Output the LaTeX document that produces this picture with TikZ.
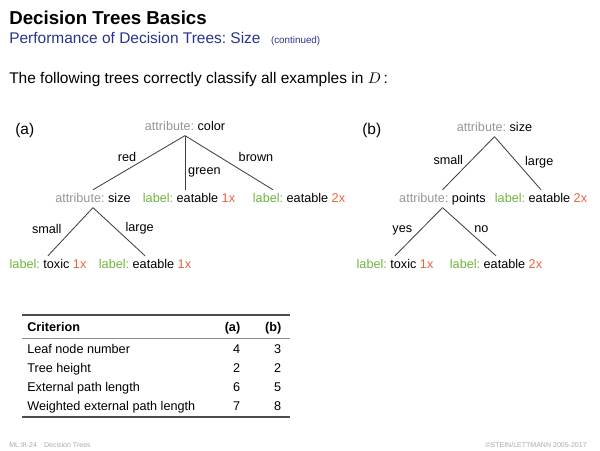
\documentclass[tikz,border=0pt]{standalone}
\usepackage{fontspec}
\setmainfont{Liberation Sans}
\usepackage{xcolor}
\usetikzlibrary{positioning}
\frenchspacing
\definecolor{attrgray}{RGB}{150,150,150}
\definecolor{lblgreen}{RGB}{110,180,60}
\definecolor{cntred}{RGB}{238,96,58}
\definecolor{subblue}{RGB}{40,52,140}
\definecolor{footgray}{RGB}{170,170,170}
\newcommand{\attrib}[1]{{\color{attrgray}attribute:} #1}
\newcommand{\leaflabel}[2]{{\color{lblgreen}label:} #1 {\color{cntred}#2}}

\begin{document}
\begin{tikzpicture}[
  x=0.025cm, y=-0.025cm,
  txt/.style={inner sep=0pt, anchor=base west},
  tnode/.style={inner sep=2pt, text height=6.5pt, text depth=1.8pt,
                font=\fontsize{9}{11}\selectfont, anchor=base},
  elabel/.style={inner sep=1pt, font=\fontsize{9}{11}\selectfont},
  branch/.style={draw=black!75, line width=0.6pt},
  cell/.style={inner sep=0pt, font=\fontsize{9}{11}\selectfont},
  hrule/.style={draw=black!70, line width=0.8pt},
  midrule/.style={draw=black!45, line width=0.5pt}
]
\useasboundingbox (0,0) rectangle (600,450);

\node[txt, font=\fontsize{13.3}{15}\selectfont\bfseries] (title) at (9,24) {Decision Trees Basics};
\node[txt, font=\fontsize{11}{13}\selectfont, text=subblue] (sub) at (9,43.5) {Performance of Decision Trees: Size};
\node[inner sep=0pt, base right=7pt of sub, font=\fontsize{7}{8}\selectfont, text=subblue] (cont) {(continued)};
\node[txt, font=\fontsize{11}{13}\selectfont] (intro) at (9,83) {The following trees correctly classify all examples in $D$\,:};

\node[txt, font=\fontsize{11}{13}\selectfont] (tagA) at (15,134) {(a)};
\node[txt, font=\fontsize{11}{13}\selectfont] (tagB) at (362,134) {(b)};

\node[tnode] (rootA) at (185,130) {\attrib{color}};
\node[tnode] (sizeA) at (93,202) {\attrib{size}};
\node[tnode] (eatA1) at (189,202) {\leaflabel{eatable}{1x}};
\node[tnode] (eatA2) at (299,202) {\leaflabel{eatable}{2x}};
\node[tnode] (toxA) at (48,268) {\leaflabel{toxic}{1x}};
\node[tnode] (eatA3) at (145,268) {\leaflabel{eatable}{1x}};

\draw[branch] (rootA.south) -- node[elabel, pos=.51, above left] (lred) {red} (sizeA.north);
\draw[branch] (rootA.south) -- node[elabel, pos=.72, anchor=base west, inner sep=2pt] (lgreen) {green} (rootA.south |- eatA1.north);
\draw[branch] (rootA.south) -- node[elabel, pos=.51, above right=0pt and 5pt] (lbrown) {brown} ([xshift=-0.65cm]eatA2.north);
\draw[branch] (sizeA.south) -- node[elabel, pos=.58, above left=0pt and 2.5pt] (lsmallA) {small} (toxA.north);
\draw[branch] (sizeA.south) -- node[elabel, pos=.59, above right] (llargeA) {large} (eatA3.north);

\node[tnode] (rootB) at (494.5,131) {\attrib{size}};
\node[tnode] (pointsB) at (442.5,202) {\attrib{points}};
\node[tnode] (eatB1) at (541,202) {\leaflabel{eatable}{2x}};
\node[tnode] (toxB) at (395,268) {\leaflabel{toxic}{1x}};
\node[tnode] (eatB2) at (496,268) {\leaflabel{eatable}{2x}};

\draw[branch] (rootB.south) -- node[elabel, pos=.57, above left] (lsmallB) {small} (pointsB.north);
\draw[branch] (rootB.south) -- node[elabel, pos=.62, above right] (llargeB) {large} (eatB1.north);
\draw[branch] (pointsB.south) -- node[elabel, pos=.6, above left] (lyes) {yes} (toxB.north);
\draw[branch] (pointsB.south) -- node[elabel, pos=.56, above right] (lno) {no} (eatB2.north);

\draw[hrule] (22,315) -- (290,315);
\node[cell, anchor=base west, font=\fontsize{9}{11}\selectfont\bfseries] (hcrit) at (27,331) {Criterion};
\node[cell, anchor=base east, font=\fontsize{9}{11}\selectfont\bfseries] (hcolA) at (240.5,331) {(a)};
\node[cell, anchor=base east, font=\fontsize{9}{11}\selectfont\bfseries] (hcolB) at (281.5,331) {(b)};
\draw[midrule] (22,338) -- (290,338);
\foreach \crit/\va/\vb [count=\i] in {Leaf node number/4/3, Tree height/2/2,
    External path length/6/5, Weighted external path length/7/8} {
  \node[cell, anchor=base west] (crit\i) at (27,334+19*\i) {\crit};
  \node[cell, anchor=base east] (colA\i) at (240.5,334+19*\i) {\va};
  \node[cell, anchor=base east] (colB\i) at (281.5,334+19*\i) {\vb};
}
\draw[hrule] (22,417) -- (290,417);

\node[txt, font=\fontsize{5}{6}\selectfont, text=footgray] (footL) at (9,447) {ML:III-24\hspace{5pt}Decision Trees};
\node[inner sep=0pt, anchor=base east, font=\fontsize{5}{6}\selectfont, text=footgray] (footR) at (587,447) {\textcopyright STEIN/LETTMANN 2005-2017};
\end{tikzpicture}
\end{document}
